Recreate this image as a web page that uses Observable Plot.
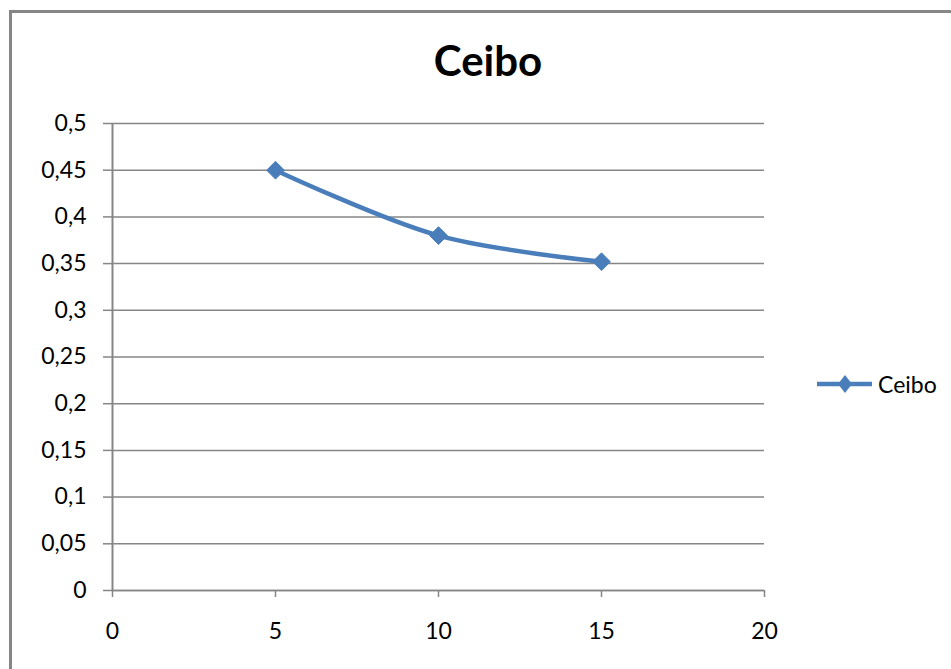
<!DOCTYPE html>
<html>
<head>
<meta charset="utf-8">
<script src="https://cdn.jsdelivr.net/npm/d3@7"></script>
<script src="https://cdn.jsdelivr.net/npm/@observablehq/plot@0.6"></script>
<style>
  body { margin: 0; background: #fff; font-family: Lato, "Open Sans", sans-serif; }
  #wrap { position: relative; width: 951px; height: 669px; overflow: hidden; }
  #frame { position: absolute; left: 9px; top: 10px; width: 1000px; height: 700px;
           border-top: 3px solid #868686; border-left: 3px solid #868686; pointer-events: none; }
  #title { position: absolute; left: 0; width: 976px; top: 35px; text-align: center;
           font: bold 42px Lato, sans-serif; color: #000; }
  #legend { position: absolute; left: 817px; top: 370px; display: flex; align-items: center;
            font: 23px Lato, sans-serif; color: #000; }
  #legend svg { margin-right: 5px; }
  #chart { position: absolute; left: 0; top: 0; }
</style>
</head>
<body>
<div id="wrap">
  <div id="chart"></div>
  <div id="frame"></div>
  <div id="title"></div>
  <div id="legend"></div>
</div>
<script>
const seriesName = "Ceibo";
const xValues = [5, 10, 15];
const yValues = [0.45, 0.38, 0.352];
const xTicks = [0, 5, 10, 15, 20];
const yTicks = [0, 0.05, 0.1, 0.15, 0.2, 0.25, 0.3, 0.35, 0.4, 0.45, 0.5];
const lineColor = "#4a7ebb";
const gridColor = "#868686";

const data = xValues.map((x, i) => ({x, y: yValues[i]}));
const fmt = d => String(+d.toFixed(2)).replace(".", ",");

const plot = Plot.plot({
  width: 951,
  height: 669,
  marginLeft: 112,
  marginRight: 187,
  marginTop: 123,
  marginBottom: 79,
  style: {fontFamily: "Lato, sans-serif", fontSize: "23px", color: "#000", background: "transparent"},
  x: {domain: [0, 20], ticks: xTicks},
  y: {domain: [0, 0.5], ticks: yTicks},
  marks: [
    Plot.gridY(yTicks, {stroke: gridColor, strokeOpacity: 1, strokeWidth: 1.5}),
    Plot.axisY(yTicks, {tickSize: 9, tickPadding: 17, stroke: gridColor, strokeWidth: 1.5, tickFormat: fmt, label: null, fill: "#000"}),
    Plot.axisX(xTicks, {tickSize: 7, tickPadding: 25, stroke: gridColor, strokeWidth: 1.5, tickFormat: fmt, label: null, fill: "#000"}),
    Plot.ruleX([0], {stroke: gridColor, strokeWidth: 2}),
    Plot.ruleY([0], {stroke: gridColor, strokeWidth: 1.5}),
    Plot.line(data, {x: "x", y: "y", stroke: lineColor, strokeWidth: 4.5, curve: "catmull-rom"}),
    Plot.dot(data, {x: "x", y: "y", symbol: "diamond2", r: 8, fill: lineColor, stroke: lineColor, strokeWidth: 1})
  ]
});
document.getElementById("chart").appendChild(plot);
document.getElementById("title").textContent = seriesName;

const lg = document.getElementById("legend");
const ns = "http://www.w3.org/2000/svg";
const s = document.createElementNS(ns, "svg");
s.setAttribute("width", 56); s.setAttribute("height", 28);
const ln = document.createElementNS(ns, "line");
ln.setAttribute("x1", 0); ln.setAttribute("x2", 55); ln.setAttribute("y1", 14); ln.setAttribute("y2", 14);
ln.setAttribute("stroke", lineColor); ln.setAttribute("stroke-width", 4.5);
const dm = document.createElementNS(ns, "path");
dm.setAttribute("d", "M28,5L35,14L28,23L21,14Z");
dm.setAttribute("fill", lineColor);
s.appendChild(ln); s.appendChild(dm);
lg.appendChild(s);
const t = document.createElement("span");
t.textContent = seriesName;
lg.appendChild(t);
</script>
</body>
</html>
